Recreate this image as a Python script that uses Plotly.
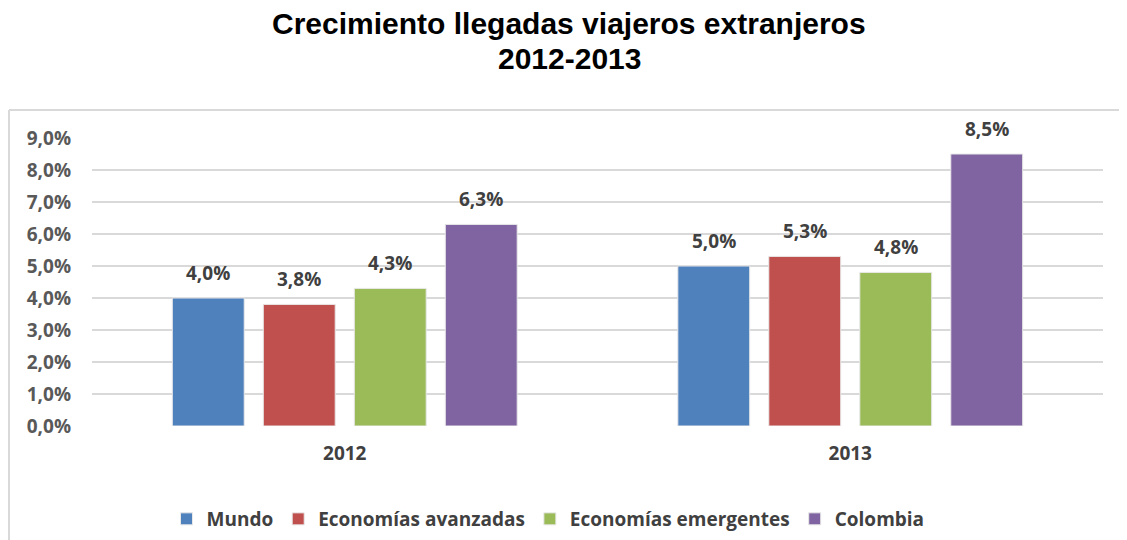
import plotly.graph_objects as go

years = ["2012", "2013"]
series_names = ["Mundo", "Economías avanzadas", "Economías emergentes", "Colombia"]
mundo = [4.0, 5.0]
avanzadas = [3.8, 5.3]
emergentes = [4.3, 4.8]
colombia = [6.3, 8.5]
colors = ["#4F81BD", "#C0504D", "#9BBB59", "#8064A2"]
tick_vals = [0, 1, 2, 3, 4, 5, 6, 7, 8, 9]
tick_text = ["0,0%", "1,0%", "2,0%", "3,0%", "4,0%", "5,0%", "6,0%", "7,0%", "8,0%", "9,0%"]

W, H = 1119, 532  # page adds an 8px body margin
ML, MR, MT, MB = 84, 24, 130, 114
PW, PH = W - ML - MR, H - MT - MB
BARGAP, GROUPGAP = 0.28, 0.21
FONT = "Open Sans"

fig = go.Figure()
all_vals = [mundo, avanzadas, emergentes, colombia]
for name, vals, col in zip(series_names, all_vals, colors):
    fig.add_trace(go.Bar(
        x=years, y=vals, name=name,
        marker=dict(color=col, line=dict(color="#E8E8E8", width=1)),
    ))

annotations = []
slot = PW / 2 * (1 - BARGAP) / 4
for i, vals in enumerate(all_vals):
    for k, v in enumerate(vals):
        annotations.append(dict(
            x=k, y=v, xref="x", yref="y", showarrow=False,
            text=f"{v:.1f}%".replace(".", ","),
            xshift=(i - 1.5) * slot, yshift=25, yanchor="middle",
            font=dict(family=FONT, size=19, color="#404040", weight="bold"),
        ))

def py(fig_y):
    return (H - MB - fig_y) / PH

annotations.append(dict(
    text="<b>Crecimiento llegadas viajeros extranjeros</b>", xref="paper", yref="paper",
    x=(569 - 8 - ML) / PW, y=py(23 - 8), showarrow=False, yanchor="middle",
    font=dict(family="Liberation Sans", size=30, color="black"),
))
annotations.append(dict(
    text="<b>2012-2013</b>", xref="paper", yref="paper",
    x=(569 - 8 - ML) / PW, y=py(58 - 8), showarrow=False, yanchor="middle",
    font=dict(family="Liberation Sans", size=30, color="black"),
))

fig.update_layout(
    width=W, height=H,
    paper_bgcolor="white", plot_bgcolor="white",
    margin=dict(l=ML, r=MR, t=MT, b=MB, autoexpand=False),
    barmode="group", bargap=BARGAP, bargroupgap=GROUPGAP,
    showlegend=True,
    legend=dict(
        orientation="h", x=(548 - 8 - ML) / PW, xanchor="center", y=py(519 - 8), yanchor="middle",
        font=dict(family=FONT, size=19, color="#404040", weight="bold"),
        traceorder="normal", itemwidth=30,
    ),
    xaxis=dict(
        type="category", range=[-0.5, 1.5], autorange=False,
        showgrid=False, showline=False, ticks="", ticklabelstandoff=14,
        tickfont=dict(family=FONT, size=19, color="#404040", weight="bold"),
    ),
    yaxis=dict(
        range=[0, 9], autorange=False, tickvals=tick_vals, ticktext=tick_text,
        showgrid=True, gridcolor="#D9D9D9", gridwidth=2, zeroline=False,
        showline=False, ticks="", ticklabelstandoff=20,
        tickfont=dict(family=FONT, size=19, color="#595959", weight="bold"),
    ),
    annotations=annotations,
    shapes=[
        dict(type="line", xref="paper", yref="paper", x0=(1 - ML) / PW, x1=1.05,
             y0=py(110 - 8), y1=py(110 - 8), line=dict(color="#D9D9D9", width=2)),
        dict(type="line", xref="paper", yref="paper", x0=(1 - ML) / PW, x1=(1 - ML) / PW,
             y0=py(110 - 8), y1=py(H + 5), line=dict(color="#D9D9D9", width=2)),
    ],
)

fig.write_html("out.html")
